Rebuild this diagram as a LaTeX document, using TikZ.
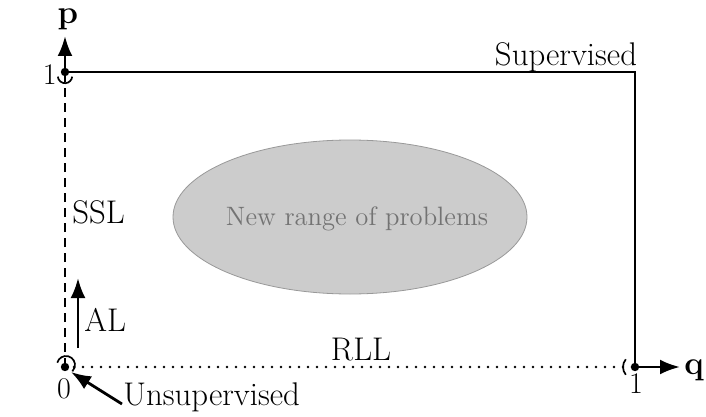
\documentclass[tikz,border=0pt]{standalone}
\usetikzlibrary{arrows.meta,shapes.geometric}
\begin{document}
\begin{tikzpicture}[x=0.5pt,y=-0.5pt,
  lbl/.style={font=\fontsize{16.4}{19}\selectfont, inner sep=0pt},
  num/.style={font=\fontsize{15}{18}\selectfont, inner sep=0pt},
  axisarrow/.style={line width=1.4pt,-{Latex[length=10pt,width=7.5pt]}},
  dotmark/.style={circle,fill=black,inner sep=0pt,minimum size=4.2pt},
  frameline/.style={line width=0.9pt},
  marc/.style={line width=0.85pt},
  blob/.style={ellipse,draw=black!40,line width=0.4pt,fill=black!20,
    minimum width=177pt,minimum height=77pt,inner sep=0pt},
  blobtext/.style={inner sep=0pt,text=black!55,font=\fontsize{13.3}{16}\selectfont}]
\useasboundingbox (0,0) rectangle (706,417);
% points
\node[dotmark] (o) at (65,367) {};
\node[dotmark] (pone) at (65,72) {};
\node[dotmark] (qone) at (635,367) {};
\coordinate (C) at (635,72);
% frame
\draw[frameline] (pone.center) -- (C) -- (qone.center);
\draw[line width=1.2pt, dash pattern=on 4.5pt off 3pt] (o.center) -- (pone.center);
\draw[line width=1.3pt, line cap=round, dash pattern=on 0pt off 4.5pt] (o.center) -- (qone.center);
% interval marks
\draw[marc] ([shift={(185:3.6pt)}]65,76) arc[start angle=185,end angle=355,radius=3.6pt];
\draw[marc] ([shift={(165:4.5pt)}]66,365) arc[start angle=165,end angle=-45,radius=4.5pt];
\draw[marc] ([shift={(140:6pt)}]635,367) arc[start angle=140,end angle=220,radius=6pt];
% axes
\coordinate (ptip) at (65,36);
\coordinate (qtip) at (680,367);
\draw[axisarrow] (pone.center) -- (ptip);
\draw[axisarrow] (qone.center) -- (qtip);
\node[lbl,anchor=base] (p) at (68,24) {\textbf{p}};
\node[lbl,anchor=base west] (q) at (684,374) {\textbf{q}};
% numbers
\node[num,anchor=base east] (onep) at (57,85) {1};
\node[num,anchor=base] (zero) at (64,398) {0};
\node[num,anchor=base] (oneq) at (636,393) {1};
% labels
\node[lbl,anchor=base] (sup) at (566,66) {Supervised};
\node[lbl,anchor=base west] (ssl) at (72,223) {SSL};
\node[lbl,anchor=base west] (al) at (84,331) {AL};
\node[lbl,anchor=base] (rll) at (361,360) {RLL};
\node[lbl,anchor=base west] (uns) at (123,405) {Unsupervised};
% AL arrow
\coordinate (alb) at (78,348);
\coordinate (alt) at (78,278);
\draw[axisarrow] (alb) -- (alt);
% Unsupervised arrow
\coordinate (unst) at (122,404);
\coordinate (unsh) at (71,372);
\draw[axisarrow] (unst) -- (unsh);
% ellipse
\node[blob] (newp) at (350,217) {};
\node[blobtext] (newt) at (357,219) {New range of problems};
\end{tikzpicture}
\end{document}
